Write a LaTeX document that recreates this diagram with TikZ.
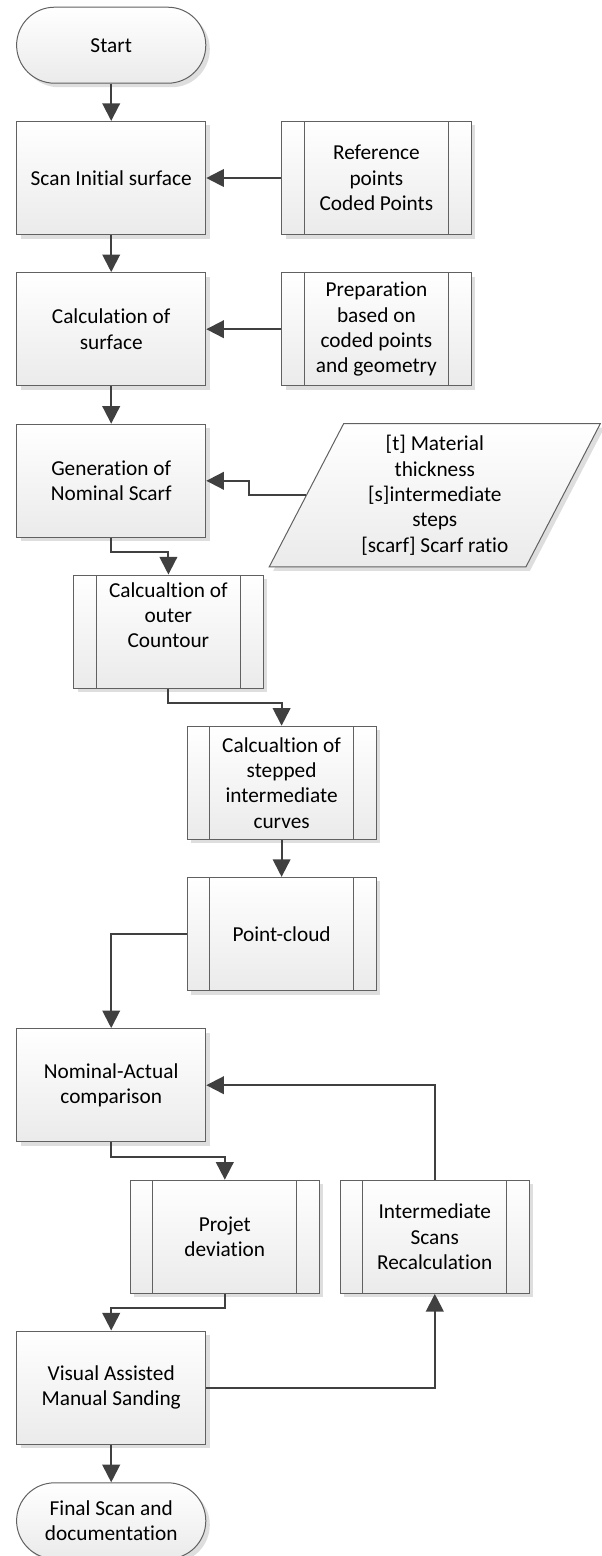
\documentclass[tikz,border=0pt]{standalone}
\usepackage{fontspec}
\setmainfont{Carlito}[Ligatures=NoCommon]
\usetikzlibrary{shapes.geometric,shadows,arrows.meta}

\begin{document}
\begin{tikzpicture}[>={Triangle[length=0.44cm,width=0.44cm]},font=\fontsize{15.15}{18}\selectfont]
        \tikzstyle{procbox}=[rectangle,draw=black!62,line width=0.025cm,top color=white,bottom color=gray!16,drop shadow={shadow xshift=0.1cm,shadow yshift=-0.1cm,fill=black!13,opacity=1},minimum width=4.73cm,minimum height=2.83cm,inner sep=0pt,align=center]
        \tikzstyle{subproc}=[procbox,path picture={\draw [draw=black!62,line width=0.025cm] ([xshift=0.565cm]path picture bounding box.north west) -- ([xshift=0.565cm]path picture bounding box.south west) ([xshift=-0.565cm]path picture bounding box.north east) -- ([xshift=-0.565cm]path picture bounding box.south east);}]
        \tikzstyle{termbox}=[procbox,minimum height=1.9cm,rounded corners=0.95cm]
        \tikzstyle{inputbox}=[procbox,trapezium,trapezium left angle=63.3,trapezium right angle=116.7,trapezium stretches=true,minimum width=8.3cm,minimum height=3.585cm]
        \tikzstyle{flow}=[->,draw=black!75,line width=0.05cm]
          \useasboundingbox (0,0) rectangle (15.025,-38.9);
          \node (start) at (2.78,-1.13) [termbox] {Start};
          \node (scan) at (2.78,-4.45) [procbox] {Scan Initial surface};
          \node (ref) at (9.41,-4.45) [subproc] {Reference\\points\\Coded Points};
          \node (calc) at (2.78,-8.23) [procbox] {Calculation of\\surface};
          \node (prep) at (9.41,-8.23) [subproc] {Preparation\\based on\\coded points\\and geometry};
          \node (gen) at (2.78,-12.02) [procbox] {Generation of\\Nominal Scarf};
          \node (param) at (10.87,-12.38) [inputbox] {[t] Material\\thickness\\{[s]}intermediate\\steps\\{[scarf]} Scarf ratio};
          \node (outer) at (4.21,-15.79) [subproc] {Calcualtion of\\outer\\Countour\\\strut};
          \node (stepped) at (7.04,-19.57) [subproc] {Calcualtion of\\stepped\\intermediate\\curves};
          \node (point) at (7.04,-23.35) [subproc] {Point-cloud};
          \node (nominal) at (2.78,-27.13) [procbox] {Nominal-Actual\\comparison};
          \node (projet) at (5.62,-30.92) [subproc] {Projet\\deviation};
          \node (inter) at (10.87,-30.92) [subproc] {Intermediate\\Scans\\Recalculation};
          \node (visual) at (2.78,-34.69) [procbox] {Visual Assisted\\Manual Sanding};
          \node (final) at (2.78,-38.02) [termbox] {Final Scan and\\documentation};
          \draw [flow] (start) -- (scan);
          \draw [flow] (ref) -- (scan);
          \draw [flow] (scan) -- (calc);
          \draw [flow] (prep) -- (calc);
          \draw [flow] (calc) -- (gen);
          \draw [flow] (param.west) -- ++(-1.41,0) |- (gen.east);
          \draw [flow] (gen.south) -- ++(0,-0.34) -| (outer.north);
          \draw [flow] (outer.south) -- ++(0,-0.36) -| (stepped.north);
          \draw [flow] (stepped) -- (point);
          \draw [flow] (point.west) -| (nominal.north);
          \draw [flow] (nominal.south) -- ++(0,-0.36) -| (projet.north);
          \draw [flow] (projet.south) -- ++(0,-0.35) -| (visual.north);
          \draw [flow] (visual.east) -| (inter.south);
          \draw [flow] (inter.north) |- (nominal.east);
          \draw [flow] (visual) -- (final);
      \end{tikzpicture}
\end{document}
